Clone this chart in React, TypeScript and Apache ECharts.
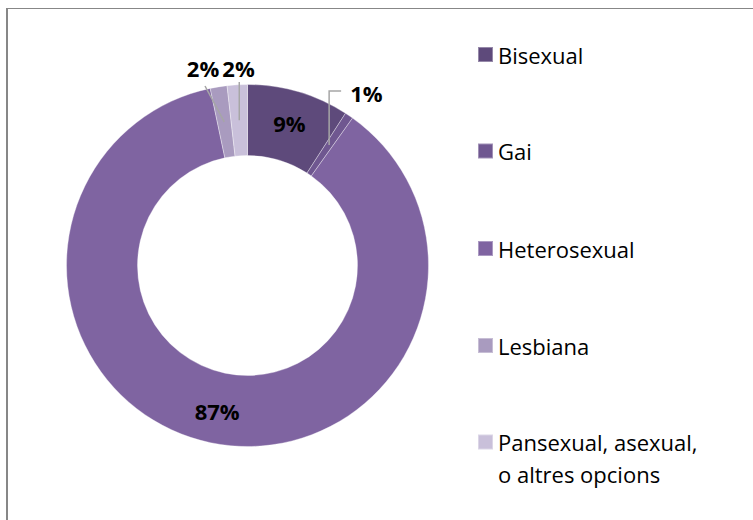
import React, { useEffect, useRef } from "react";
import * as echarts from "echarts";

const categories = [
  "Bisexual",
  "Gai",
  "Heterosexual",
  "Lesbiana",
  "Pansexual, asexual, o altres opcions",
];
const values = [9.1, 0.75, 86.8, 1.5, 1.8];
const colors = ["#5e4a7b", "#6f5790", "#7f64a1", "#a99bbf", "#c9c0da"];
const legendCenters = [54.5, 151, 248.5, 345.5, 442];

const CX = 247.5;
const CY = 265.5;
const R_IN = 110;
const R_OUT = 181;

function anchorOf(i: number): [number, number] {
  const total = values.reduce((a, b) => a + b, 0);
  let before = 0;
  for (let k = 0; k < i; k++) before += values[k];
  const mid = ((before + values[i] / 2) / total) * Math.PI * 2;
  const r = (R_IN + R_OUT) / 2;
  return [CX + r * Math.sin(mid), CY - r * Math.cos(mid)];
}

export default function App() {
  const ref = useRef<HTMLDivElement>(null);
  useEffect(() => {
    if (!ref.current) return;
    const chart = echarts.init(ref.current, null, { renderer: "svg" });
    const font = "'Open Sans', 'Noto Sans', sans-serif";
    const insideIdx = [0, 2];
    chart.setOption({
      animation: false,
      backgroundColor: "#ffffff",
      color: colors,
      graphic: [
        {
          type: "line",
          shape: { x1: 7, y1: 8, x2: 7, y2: 530 },
          style: { stroke: "#878787", lineWidth: 2 },
        },
        {
          type: "line",
          shape: { x1: 6, y1: 8.5, x2: 760, y2: 8.5 },
          style: { stroke: "#878787", lineWidth: 1 },
        },
      ],
      legend: categories.map((c, i) => {
        const multi = i === 4;
        return {
          data: [c],
          orient: "vertical",
          left: 477,
          top: multi ? legendCenters[i] - 48 : legendCenters[i] - 11,
          padding: 0,
          icon: "rect",
          itemWidth: 15,
          itemHeight: 15,
          selectedMode: false,
          formatter: (n: string) =>
            multi ? " \n" + n.replace(", o ", ",\no ") : n,
          textStyle: {
            fontFamily: font,
            fontSize: 22,
            color: "#000000",
            lineHeight: multi ? 32 : undefined,
          },
        };
      }),
      series: [
        {
          type: "pie",
          z: 2,
          center: [CX, CY],
          radius: [R_IN, R_OUT],
          startAngle: 90,
          clockwise: true,
          avoidLabelOverlap: false,
          itemStyle: { borderColor: "rgba(255,255,255,0.35)", borderWidth: 1 },
          label: { show: false },
          labelLine: { show: false },
          data: categories.map((c, i) => ({ name: c, value: values[i] })),
        },
        {
          type: "pie",
          z: 3,
          silent: true,
          legendHoverLink: false,
          center: [CX, CY],
          radius: [R_IN, R_OUT],
          startAngle: 90,
          clockwise: true,
          avoidLabelOverlap: false,
          itemStyle: { color: "rgba(0,0,0,0)", borderWidth: 0 },
          label: {
            show: true,
            position: "outside",
            fontFamily: font,
            fontSize: 22,
            fontWeight: "bold",
            color: "#000000",
            formatter: (p: any) => Math.round(p.percent) + "%",
          },
          labelLine: {
            show: true,
            lineStyle: { color: "#a6a6a6", width: 1.5 },
          },
          labelLayout: (p: any) => {
            const i = p.dataIndex;
            if (insideIdx.includes(i)) return {};
            const [ax, ay] = anchorOf(i);
            if (i === 1) {
              return {
                x: ax + 21,
                y: 92.5,
                align: "left",
                verticalAlign: "middle",
                labelLinePoints: [
                  [ax, ay],
                  [ax, 91],
                  [ax + 12, 91],
                ],
              };
            }
            if (i === 3) {
              return {
                x: 203,
                y: 67.5,
                align: "center",
                verticalAlign: "middle",
                labelLinePoints: [
                  [ax, ay],
                  [(ax + 205) / 2, (ay + 86) / 2],
                  [205, 86],
                ],
              };
            }
            return {
              x: 238.5,
              y: 67.5,
              align: "center",
              verticalAlign: "middle",
              labelLinePoints: [
                [ax, ay],
                [ax, (ay + 82) / 2],
                [ax, 82],
              ],
            };
          },
          data: categories.map((c, i) => ({
            name: c,
            value: values[i],
            label: insideIdx.includes(i) ? { position: "inside" } : undefined,
            labelLine: insideIdx.includes(i) ? { show: false } : undefined,
          })),
        },
      ],
    });
    return () => chart.dispose();
  }, []);
  return (
    <div
      ref={ref}
      style={{ position: "fixed", left: 0, top: 0, width: 753, height: 520 }}
    />
  );
}
